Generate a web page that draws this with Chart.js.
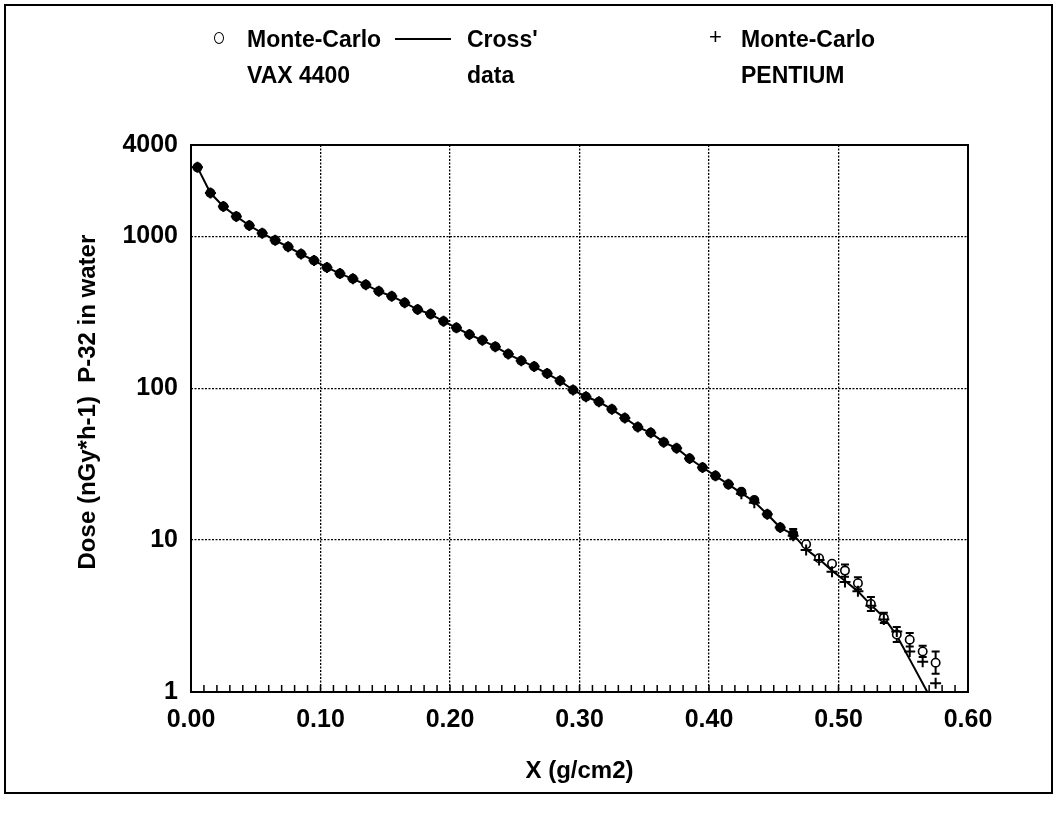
<!DOCTYPE html>
<html>
<head>
  <meta charset="utf-8">
  <title>P-32 in water - dose vs depth</title>
  <script src="https://cdn.jsdelivr.net/npm/chart.js"></script>
  <style>
    html, body { margin:0; padding:0; background:#fff; }
    body { width:1058px; height:816px; position:relative; overflow:hidden;
           font-family:"Liberation Sans", Arial, sans-serif; font-weight:bold; color:#000; }
    #c { position:absolute; left:0; top:0; }
    #frame { position:absolute; left:4px; top:4px; width:1049px; height:790px;
             border:2px solid #000; box-sizing:border-box; }
    .lg { position:absolute; font-size:23px; line-height:36px; white-space:nowrap; }
    .circ { position:absolute; width:8px; height:10px; border:1.5px solid #000; border-radius:50%; }
    .dash { position:absolute; width:56px; height:2px; background:#000; }
    .plus { position:absolute; font-size:22px; font-weight:normal; line-height:22px; }
  </style>
</head>
<body>
  <div id="frame"></div>
  <canvas id="c" width="1058" height="816"></canvas>

  <div class="circ" style="left:214px;top:32px"></div>
  <div class="lg" style="left:247px;top:21px">Monte-Carlo<br>VAX 4400</div>
  <div class="dash" style="left:395px;top:38px"></div>
  <div class="lg" style="left:467px;top:21px">Cross'<br>data</div>
  <div class="plus" style="left:709px;top:26px">+</div>
  <div class="lg" style="left:741px;top:21px">Monte-Carlo<br>PENTIUM</div>

  <script>
    // depth (g/cm2) of the Monte-Carlo points
    const xVals = [0.005,0.015,0.025,0.035,0.045,0.055,0.065,0.075,0.085,0.095,
                   0.105,0.115,0.125,0.135,0.145,0.155,0.165,0.175,0.185,0.195,
                   0.205,0.215,0.225,0.235,0.245,0.255,0.265,0.275,0.285,0.295,
                   0.305,0.315,0.325,0.335,0.345,0.355,0.365,0.375,0.385,0.395,
                   0.405,0.415,0.425,0.435,0.445,0.455,0.465,0.475,0.485,0.495,
                   0.505,0.515,0.525,0.535,0.545,0.555,0.565,0.575];
    const vaxDose = [2850,1930,1575,1355,1180,1050,942,855,766,694,
                     625,569,526,481,435,404,366,330,308,276,
                     250,226,207,188,168,152,139,125,112,97.5,
                     88,81.5,72.7,63.8,55.6,50.9,44.2,40.3,34.5,30.1,
                     26.5,23.3,20.8,18.4,14.8,12.1,11.0,9.4,7.6,7.0,
                     6.3,5.2,3.8,3.08,2.39,2.21,1.85,1.56];
    // relative error bars on the VAX points (0 = not visible)
    const vaxErr = [0,0,0,0,0,0,0,0,0,0,
                    0,0,0,0,0,0,0,0,0,0,
                    0,0,0,0,0,0,0,0,0,0,
                    0,0,0,0,0,0,0,0,0,0,
                    0,0,0,0,0,0,0.075,0,0,0,
                    0.096,0.096,0.113,0.08,0.12,0.108,0.088,0.184];
    const pentiumDose = [2850,1930,1575,1355,1180,1050,942,855,766,694,
                         625,569,526,481,435,404,366,330,308,276,
                         250,226,207,188,168,152,139,125,112,97.5,
                         88,81.5,72.7,63.8,55.6,50.9,44.2,40.3,34.5,30.1,
                         26.5,23.3,20.2,17.6,14.8,12.1,10.7,8.6,7.4,6.2,
                         5.3,4.6,3.7,3.0,2.5,1.85,1.58,1.14];
    // Cross' data curve
    const crossX = [0.005,0.015,0.025,0.035,0.045,0.055,0.065,0.075,0.085,0.095,
                    0.105,0.115,0.125,0.135,0.145,0.155,0.165,0.175,0.185,0.195,
                    0.205,0.215,0.225,0.235,0.245,0.255,0.265,0.275,0.285,0.295,
                    0.305,0.315,0.325,0.335,0.345,0.355,0.365,0.375,0.385,0.395,
                    0.405,0.415,0.425,0.435,0.445,0.455,0.465,0.475,0.485,0.495,
                    0.505,0.515,0.525,0.535,0.545,0.555,0.5686];
    const crossDose = [2850,1930,1575,1355,1180,1050,942,855,766,694,
                       625,569,526,481,435,404,366,330,308,276,
                       250,226,207,188,168,152,139,125,112,97.5,
                       88,81.5,72.7,63.8,55.6,50.9,44.2,40.3,34.5,30.1,
                       26.5,23.3,20.4,17.9,14.8,12.1,10.9,8.7,7.5,6.3,
                       5.4,4.6,3.75,3.1,2.35,1.64,1.0];
    const xTicks = [0, 0.1, 0.2, 0.3, 0.4, 0.5, 0.6];
    const yTicks = [1, 10, 100, 1000, 4000];
    const yTitle = 'Dose (nGy*h-1)  P-32 in water';
    const xTitle = 'X (g/cm2)';

    const FONT = '"Liberation Sans", Arial, sans-serif';
    const pts = (xs, ys) => xs.map((x, i) => ({x, y: ys[i]}));

    const decor = {
      id: 'decor',
      beforeDatasetsDraw(chart) {
        const {ctx, scales: {x, y}} = chart;
        ctx.save();
        ctx.strokeStyle = '#000';
        ctx.lineWidth = 2;
        xVals.forEach((xv, i) => {
          const e = vaxErr[i];
          if (!e) return;
          const px = x.getPixelForValue(xv);
          const top = y.getPixelForValue(vaxDose[i] * (1 + e));
          const bot = y.getPixelForValue(vaxDose[i] / (1 + e));
          ctx.beginPath();
          ctx.moveTo(px, top); ctx.lineTo(px, bot);
          ctx.moveTo(px - 4, top); ctx.lineTo(px + 4, top);
          ctx.moveTo(px - 4, bot); ctx.lineTo(px + 4, bot);
          ctx.stroke();
        });
        ctx.restore();
      },
      afterDraw(chart) {
        const {ctx, chartArea: a, scales: {x}} = chart;
        ctx.save();
        ctx.strokeStyle = '#000';
        ctx.lineWidth = 2;
        ctx.strokeRect(a.left, a.top, a.right - a.left, a.bottom - a.top);
        // small inward ticks every 0.01 on the x axis
        ctx.lineWidth = 1.5;
        ctx.beginPath();
        for (let k = 1; k < 60; k++) {
          const px = x.getPixelForValue(k / 100);
          ctx.moveTo(px, a.bottom);
          ctx.lineTo(px, a.bottom - 7);
        }
        ctx.stroke();
        // y title sits a little above the middle of the axis
        ctx.translate(88, a.top + (a.bottom - a.top) * 0.47);
        ctx.rotate(-Math.PI / 2);
        ctx.font = 'bold 24px ' + FONT;
        ctx.textAlign = 'center';
        ctx.textBaseline = 'middle';
        ctx.fillStyle = '#000';
        ctx.fillText(yTitle, 0, 0);
        ctx.restore();
      }
    };

    new Chart(document.getElementById('c'), {
      type: 'scatter',
      data: {
        datasets: [
          { label: 'Monte-Carlo PENTIUM', data: pts(xVals, pentiumDose), order: 1,
            pointStyle: 'cross', pointRadius: 5.5, borderColor: '#000', borderWidth: 2 },
          { label: 'Monte-Carlo VAX 4400', data: pts(xVals, vaxDose), order: 2,
            pointStyle: 'circle', pointRadius: 4.2, borderColor: '#000', borderWidth: 1.6,
            backgroundColor: c => (c.raw && c.raw.x < 0.47 ? '#000' : '#fff') },
          { label: "Cross' data", data: pts(crossX, crossDose), order: 3, showLine: true,
            pointRadius: 0, borderColor: '#000', borderWidth: 2 }
        ]
      },
      options: {
        responsive: false,
        animation: false,
        devicePixelRatio: 1,
        layout: { padding: { left: 0, top: 145, right: 90, bottom: 0 } },
        plugins: { legend: { display: false }, tooltip: { enabled: false } },
        scales: {
          x: {
            type: 'linear', min: 0, max: 0.6,
            afterBuildTicks: s => { s.ticks = xTicks.map(v => ({value: v})); },
            afterFit: s => { s.height = 124; },
            ticks: { callback: v => v.toFixed(2), color: '#000', padding: 13,
                     maxRotation: 0, autoSkip: false, font: { family: FONT, size: 25, weight: 'bold' } },
            grid: { color: '#000', lineWidth: 1.3, drawTicks: false },
            border: { display: false, dash: [2, 1.5] },
            title: { display: true, text: xTitle, color: '#000', padding: { top: 0, bottom: 30 },
                     font: { family: FONT, size: 24, weight: 'bold' } }
          },
          y: {
            type: 'logarithmic', min: 1, max: 4000,
            afterBuildTicks: s => { s.ticks = yTicks.map(v => ({value: v})); },
            afterFit: s => { s.width = 191; },
            ticks: { callback: v => String(v), color: '#000', padding: 13,
                     font: { family: FONT, size: 25, weight: 'bold' } },
            grid: { color: '#000', lineWidth: 1.3, drawTicks: false },
            border: { display: false, dash: [2, 1.5] }
          }
        }
      },
      plugins: [decor]
    });
  </script>
</body>
</html>
